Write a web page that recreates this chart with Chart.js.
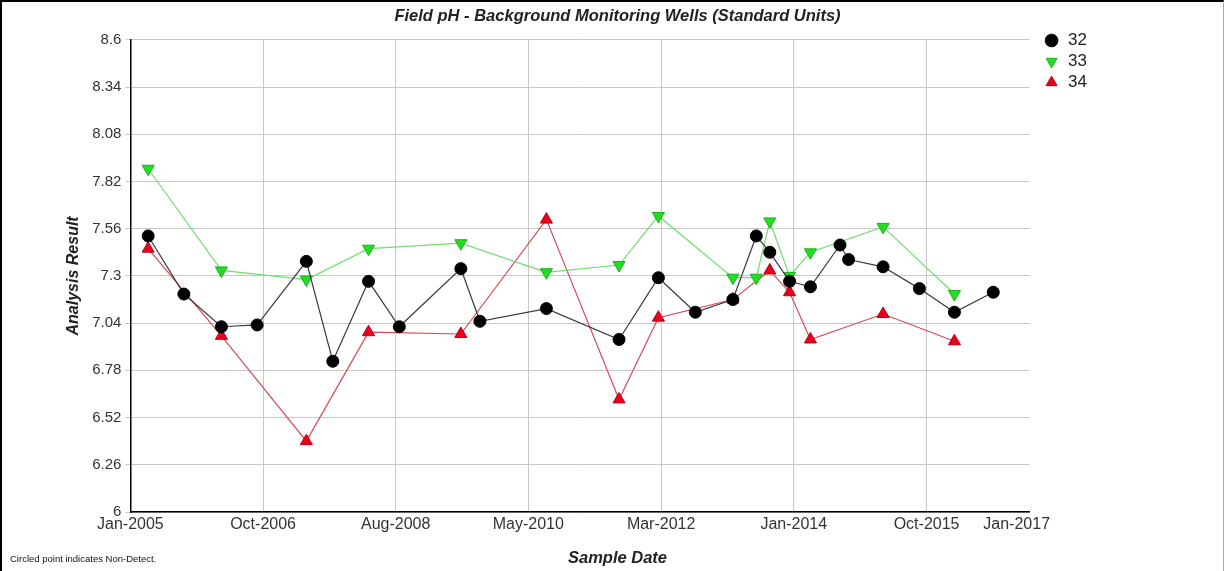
<!DOCTYPE html>
<html>
<head>
<meta charset="utf-8">
<title>Field pH - Background Monitoring Wells</title>
<script src="https://cdn.jsdelivr.net/npm/chart.js@4.4.1/dist/chart.umd.min.js"></script>
<style>
    html, body { margin: 0; padding: 0; background: #fff; }
    #wrap { position: relative; width: 1225px; height: 571px; overflow: hidden; }
    #chart { position: absolute; left: 0; top: 0; }
    #frame {
        position: absolute; left: 0; top: 0; width: 1221px; height: 571px;
        border-top: 2px solid #000; border-left: 2px solid #000; border-right: 1px solid #aaa;
        pointer-events: none;
    }
    #note {
        position: absolute; left: 10px; top: 553px;
        font: 9.5px "Liberation Sans", Arial, sans-serif; color: #111;
    }
</style>
</head>
<body>
<div id="wrap">
    <canvas id="chart" width="1225" height="571"></canvas>
    <div id="frame"></div>
    <div id="note">Circled point indicates Non-Detect.</div>
</div>

<script>
// Sample dates and field pH per well
const dates32 = ['2005-03-28', '2005-09-22', '2006-03-25', '2006-09-19', '2007-05-19', '2007-09-28',
    '2008-03-22', '2008-08-22', '2009-06-22', '2009-09-25', '2010-08-19', '2011-08-13', '2012-02-25',
    '2012-08-25', '2013-02-28', '2013-06-22', '2013-08-28', '2013-12-04', '2014-03-16', '2014-08-10',
    '2014-09-22', '2015-03-10', '2015-09-07', '2016-02-28', '2016-09-07'];
const ph32 = [7.52, 7.2, 7.02, 7.03, 7.38, 6.83, 7.27, 7.02, 7.34, 7.05, 7.12, 6.95, 7.29,
    7.1, 7.17, 7.52, 7.43, 7.27, 7.24, 7.47, 7.39, 7.35, 7.23, 7.1, 7.21];

const dates33 = ['2005-03-28', '2006-03-25', '2007-05-19', '2008-03-22', '2009-06-22', '2010-08-19',
    '2011-08-13', '2012-02-25', '2013-02-28', '2013-06-22', '2013-08-28', '2013-12-04', '2014-03-16',
    '2015-03-10', '2016-02-28'];
const ph33 = [7.89, 7.33, 7.28, 7.45, 7.48, 7.32, 7.36, 7.63, 7.29, 7.29, 7.6, 7.3, 7.43, 7.57, 7.2];

const dates34 = ['2005-03-28', '2006-03-25', '2007-05-19', '2008-03-22', '2009-06-22', '2010-08-19',
    '2011-08-13', '2012-02-25', '2013-02-28', '2013-08-28', '2013-12-04', '2014-03-16', '2015-03-10',
    '2016-02-28'];
const ph34 = [7.45, 6.97, 6.39, 6.99, 6.98, 7.61, 6.62, 7.07, 7.17, 7.33, 7.21, 6.95, 7.09, 6.94];

// Axis ticks
const yTicks = [6, 6.26, 6.52, 6.78, 7.04, 7.3, 7.56, 7.82, 8.08, 8.34, 8.6];
const xTickDates = ['2005-01-01', '2006-10-18', '2008-08-04', '2010-05-21', '2012-03-08',
    '2013-12-25', '2015-10-12', '2017-01-01'];
const xTickLabels = ['Jan-2005', 'Oct-2006', 'Aug-2008', 'May-2010', 'Mar-2012', 'Jan-2014', 'Oct-2015', 'Jan-2017'];
const xAxisStart = '2005-01-01';
const xAxisEnd = '2017-03-04';

const chartTitle = 'Field pH - Background Monitoring Wells (Standard Units)';
const xTitle = 'Sample Date';
const yTitle = 'Analysis Result';

// months since Jan 2005, so the linear scale can place dates
function toMonths(s) {
    const p = s.split('-').map(Number);
    return (p[0] - 2005) * 12 + (p[1] - 1) + (p[2] - 1) / 30.4;
}

function points(dates, values) {
    return dates.map((d, i) => ({ x: toMonths(d), y: values[i] }));
}

// Titles are centred on the whole picture, legend sits level with the plot top
const nudgeBoxes = {
    id: 'nudgeBoxes',
    afterLayout(chart) {
        chart.boxes.forEach(b => {
            if (b.options && (b.options.text === chartTitle || b.options.text === xTitle)) {
                b.left = 10;
                b.right = chart.width;
                b.width = b.right - b.left;
            }
        });
        const lg = chart.legend;
        if (lg) {
            lg.left += 10;
            lg.right += 10;
            lg.top += 28;
            lg.bottom += 28;
        }
    }
};

Chart.defaults.font.family = '"Liberation Sans", Arial, sans-serif';
Chart.defaults.color = '#333';

const ctx = document.getElementById('chart');
new Chart(ctx, {
    type: 'line',
    data: {
        datasets: [{
            label: '32',
            data: points(dates32, ph32),
            borderColor: '#3a3a3a',
            borderWidth: 1.2,
            pointStyle: 'circle',
            pointRadius: 6,
            pointBackgroundColor: '#000',
            pointBorderColor: '#000',
            pointBorderWidth: 1,
            backgroundColor: '#000'
        }, {
            label: '33',
            data: points(dates33, ph33),
            borderColor: '#72dc72',
            borderWidth: 1.2,
            pointStyle: 'triangle',
            rotation: 180,
            pointRadius: 7,
            pointBackgroundColor: '#22dd22',
            pointBorderColor: '#1cb01c',
            pointBorderWidth: 1,
            backgroundColor: '#22dd22'
        }, {
            label: '34',
            data: points(dates34, ph34),
            borderColor: '#d24a55',
            borderWidth: 1.2,
            pointStyle: 'triangle',
            pointRadius: 7,
            pointBackgroundColor: '#e8001c',
            pointBorderColor: '#b80016',
            pointBorderWidth: 1,
            backgroundColor: '#e8001c'
        }]
    },
    options: {
        responsive: false,
        animation: false,
        layout: { padding: { left: 0, right: 138, top: 0, bottom: 0 } },
        scales: {
            x: {
                type: 'linear',
                min: toMonths(xAxisStart),
                max: toMonths(xAxisEnd),
                afterBuildTicks: scale => {
                    scale.ticks = xTickDates.map(d => ({ value: toMonths(d) }));
                },
                ticks: {
                    autoSkip: false,
                    maxRotation: 0,
                    padding: 3,
                    color: '#333',
                    font: { size: 16 },
                    callback: (value, index) => xTickLabels[index]
                },
                grid: {
                    color: c => (c.index === xTickDates.length - 1 ? 'rgba(0,0,0,0)' : '#c8c8c8'),
                    lineWidth: 1,
                    drawTicks: false
                },
                border: { color: '#000', width: 1.5 }
            },
            y: {
                min: 6,
                max: 8.6,
                afterBuildTicks: scale => {
                    scale.ticks = yTicks.map(v => ({ value: v }));
                },
                ticks: {
                    padding: 4,
                    color: '#333',
                    font: { size: 15 },
                    callback: value => String(value)
                },
                grid: { color: '#c8c8c8', lineWidth: 1, tickLength: 5 },
                border: { color: '#000', width: 1.5 },
                title: {
                    display: true,
                    text: yTitle,
                    color: '#222',
                    font: { size: 16, weight: 'bold', style: 'italic' },
                    padding: { top: 64, bottom: 5 }
                }
            }
        },
        plugins: {
            title: {
                display: true,
                text: chartTitle,
                color: '#222',
                font: { size: 16.5, weight: 'bold', style: 'italic' },
                padding: { top: 7, bottom: 13 }
            },
            subtitle: {
                display: true,
                text: xTitle,
                position: 'bottom',
                color: '#222',
                font: { size: 16.5, weight: 'bold', style: 'italic' },
                padding: { top: 11, bottom: 3 }
            },
            legend: {
                position: 'right',
                align: 'start',
                labels: {
                    usePointStyle: true,
                    boxWidth: 16,
                    boxHeight: 9,
                    padding: 4,
                    color: '#222',
                    font: { size: 17 }
                }
            },
            tooltip: { enabled: false }
        }
    },
    plugins: [nudgeBoxes]
});
</script>
</body>
</html>
